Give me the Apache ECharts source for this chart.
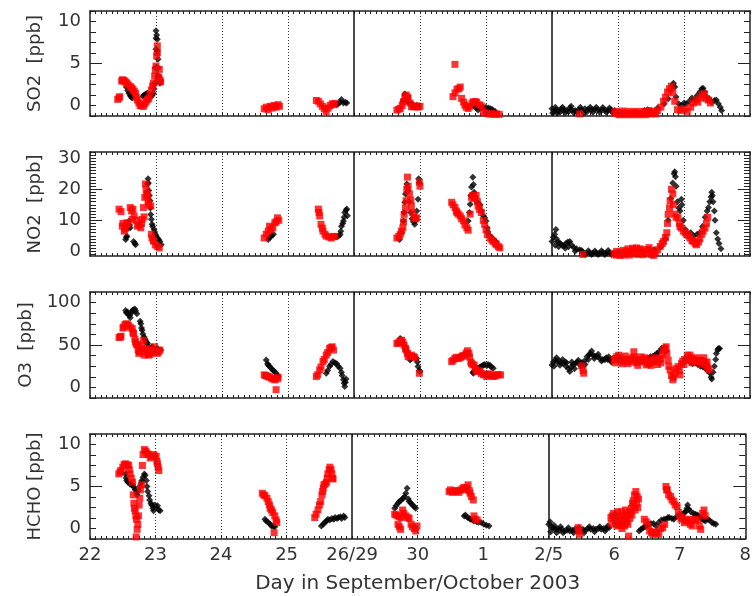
<!DOCTYPE html>
<html><head><meta charset="utf-8">
<script src="https://cdn.jsdelivr.net/npm/echarts@6/dist/echarts.min.js"></script>
<style>html,body{margin:0;padding:0;background:#fff}#c{width:754px;height:596px}</style>
</head><body><div id="c"></div>
<script>
// x positions: days counted along the compressed axis (0 = Sep 22, 4 = Sep 26/29, 7 = Oct 2/5, 10 = Oct 8)
const dayLabels = ['22','23','24','25','26/29','30','1','2/5','6','7','8'];
const dayTicks = [0,1,2,3,4,5,6,7,8,9,10];
const dottedDays = [1,2,3,5,6,8,9];
const solidDays = [4,7];
const xTitle = 'Day in September/October 2003';

const so2Labels = [0,5,10];
const no2Labels = [0,10,20,30];
const o3Labels = [0,50,100];
const hchoLabels = [0,5,10];

const so2Black = [[0.55,2.2],[0.57,1.8],[0.59,1.45],[0.61,1.2],[0.62,1.05],[0.64,0.9],[0.80,1.1],[0.82,1.25],[0.85,1.4],[0.87,1.45],[0.9,1.2],[0.92,1.05],[0.94,1.2],[0.96,1.45],[0.97,2.0],[0.98,2.66],[0.99,4.5],[1.0,6.7],[1.0,8.0],[1.0,8.9],[1.01,8.4],[1.02,7.9],[1.02,6.5],[1.03,5.5],[1.03,4.5],[1.04,3.5],[1.05,3.0],[1.06,2.66],[1.07,2.9],
[2.72,-0.2],[2.8,0.0],[3.74,0.1],[3.76,0.2],[3.79,0.4],[3.81,0.7],[3.84,0.3],[3.87,0.4],[3.89,0.3],
[4.74,0.5],[4.77,1.37],[4.78,1.2],[4.80,0.65],[4.83,0.4],[4.85,0.25],[4.88,0.1],[4.9,0.05],[4.95,0.0],
[5.81,0.0],[5.85,-0.3],[5.88,-0.55],[5.92,-0.3],[5.96,-0.25],[6.0,-0.2],[6.04,-0.3],[6.07,-0.4],[6.1,-0.5],[6.14,-0.7],
[7.0,-0.4],[7.03,-0.7],[7.06,-0.5],[7.1,-0.6],[7.14,-0.4],[7.18,-0.5],[7.22,-0.6],[7.27,-0.3],[7.3,-0.5],[7.35,-0.6],[7.4,-0.5],[7.45,-0.55],[7.5,-0.4],[7.55,-0.45],[7.6,-0.5],[7.65,-0.45],[7.7,-0.5],[7.75,-0.55],[7.8,-0.5],[7.85,-0.6],[7.9,-0.55],[7.95,-0.6],
[7.01,-0.9],[7.05,-0.2],[7.08,-0.9],[7.12,-0.8],[7.16,-0.2],[7.2,-0.85],[7.25,-0.75],[7.29,-0.1],[7.33,-0.85],[7.38,-0.8],[7.43,-0.2],[7.48,-0.85],[7.53,-0.75],[7.58,-0.2],[7.62,-0.8],[7.67,-0.2],[7.72,-0.8],[7.77,-0.25],[7.82,-0.8],[7.87,-0.3],[7.92,-0.85],
[8.4,-0.6],[8.45,-0.5],[8.6,-0.3],[8.7,0.2],[8.76,0.8],[8.8,1.8],[8.83,2.4],[8.84,2.66],[8.86,2.2],[8.88,1.0],[8.92,0.2],[8.96,0.0],[9.0,0.3],[9.03,0.2],[9.08,0.5],[9.12,0.9],[9.16,0.7],[9.2,1.2],[9.24,1.6],[9.27,2.0],[9.29,2.05],[9.31,1.6],[9.34,1.0],[9.38,0.8],[9.42,0.4],[9.46,0.6],[9.49,0.65],[9.52,0.2],[9.55,-0.2],[9.57,-0.6]];
const so2Red = [[0.42,0.73],[0.44,0.9],[0.45,1.05],[0.48,2.9],[0.49,3.06],[0.51,3.0],[0.52,2.9],[0.54,2.8],[0.56,2.66],[0.58,2.45],[0.61,2.26],[0.63,2.1],[0.65,1.9],[0.67,1.7],[0.69,1.45],[0.70,1.0],[0.72,0.65],[0.74,0.3],[0.76,0.0],[0.78,-0.05],[0.81,-0.1],[0.83,0.2],[0.85,0.45],[0.87,0.7],[0.89,0.85],[0.91,1.3],[0.93,1.85],[0.95,2.3],[0.96,2.66],[0.98,3.5],[0.99,4.2],[1.0,4.7],[1.01,5.9],[1.02,7.1],[1.02,6.3],[1.03,3.06],[1.04,3.4],[1.05,4.3],[1.06,3.06],[1.07,2.8],
[2.64,-0.4],[2.67,-0.2],[2.7,-0.5],[2.73,-0.1],[2.76,-0.3],[2.79,0.0],[2.82,-0.2],[2.85,0.1],[2.87,-0.1],
[3.43,0.6],[3.46,0.5],[3.49,0.2],[3.52,-0.1],[3.55,-0.4],[3.58,-0.7],[3.61,-0.3],[3.64,0.0],[3.67,0.2],[3.71,0.25],[3.69,0.1],
[4.65,-0.55],[4.68,-0.45],[4.70,-0.35],[4.73,0.0],[4.75,0.45],[4.77,0.9],[4.79,1.25],[4.81,1.0],[4.82,0.85],[4.85,0.3],[4.87,-0.15],[4.9,-0.1],[4.92,-0.15],[4.95,-0.05],[4.97,-0.2],[5.0,-0.1],
[5.53,4.9],[5.5,1.05],[5.53,1.5],[5.56,1.94],[5.59,2.0],[5.61,2.2],[5.63,0.85],[5.66,0.4],[5.68,0.05],[5.7,-0.2],[5.73,-0.35],[5.76,-0.1],[5.79,0.3],[5.81,0.45],[5.84,0.45],[5.86,0.4],[5.9,0.1],[5.93,-0.05],[5.96,-0.75],[6.0,-0.9],[6.04,-1.0],[6.08,-1.0],[6.12,-1.05],[6.16,-1.0],[6.2,-1.05],
[7.42,-1.0],[7.95,-0.9],[8.0,-1.0],[8.05,-0.85],[8.1,-1.0],[8.15,-0.9],[8.2,-1.0],[8.25,-0.85],[8.3,-0.95],[8.35,-1.0],[8.4,-0.9],[8.45,-0.8],[8.5,-1.0],[8.55,-0.8],
[7.97,-0.7],[8.02,-1.1],[8.07,-0.65],[8.12,-1.1],[8.17,-0.7],[8.22,-1.1],[8.27,-0.7],[8.32,-1.1],[8.37,-0.7],[8.42,-1.1],[8.47,-0.6],[8.52,-0.7],[8.57,-1.0],
[8.6,-0.6],[8.65,-0.2],[8.69,0.5],[8.72,1.0],[8.75,1.6],[8.78,2.0],[8.81,2.3],[8.83,1.5],[8.86,0.5],[8.9,-0.5],[8.95,-0.6],[9.0,-0.4],[9.05,-0.7],[9.1,-0.2],[9.14,0.3],[9.18,0.65],[9.21,0.4],[9.25,0.9],[9.28,1.25],[9.31,1.4],[9.34,0.8],[9.37,0.65],[9.4,0.3]];

const no2Black = [[0.54,3.8],[0.55,4.5],[0.56,4.9],[0.58,7.5],[0.59,9.8],[0.60,8.5],[0.61,7.6],[0.66,3.2],[0.68,2.6],[0.69,2.1],
[0.86,19.0],[0.87,21.7],[0.88,23.4],[0.885,22.0],[0.89,19.6],[0.9,18.0],[0.91,16.3],[0.915,14.0],[0.92,11.9],[0.93,10.3],[0.94,8.7],[0.95,8.0],[0.97,7.0],[0.98,6.2],[0.99,5.4],[1.0,5.0],[1.02,4.3],[1.04,3.8],[1.06,3.2],[1.08,2.1],
[2.7,3.8],[2.73,4.5],[2.75,5.0],[2.78,5.5],
[3.74,4.6],[3.77,5.0],[3.79,5.4],[3.8,6.5],[3.81,8.1],[3.83,9.0],[3.84,9.8],[3.85,11.0],[3.86,12.5],[3.88,13.2],[3.89,13.6],[3.9,11.5],
[4.69,3.8],[4.72,6.0],[4.75,9.8],[4.76,12.5],[4.77,15.8],[4.78,18.5],[4.8,21.7],[4.81,20.5],[4.82,19.6],[4.84,16.0],[4.86,12.5],[4.88,10.5],[4.9,9.5],[4.92,8.7],[4.94,10.0],[4.95,13.0],[4.97,16.8],[4.98,23.4],[4.99,22.0],
[5.73,9.8],[5.75,12.5],[5.76,15.2],[5.77,18.0],[5.78,20.7],[5.8,23.9],[5.81,21.5],[5.82,19.0],[5.84,17.5],[5.86,16.0],[5.88,15.5],[5.91,15.0],[5.93,13.0],[5.96,11.5],[5.98,10.8],[6.0,9.8],[6.02,7.5],[6.03,6.3],[6.06,5.0],[6.09,4.3],[6.12,3.6],[6.15,3.2],
[7.0,3.2],[7.02,4.5],[7.04,5.5],[7.06,7.0],[7.07,4.0],[7.09,3.0],[7.12,2.7],[7.15,2.0],[7.18,1.8],[7.21,2.5],[7.24,3.0],[7.27,3.2],[7.3,2.0],[7.33,1.2],[7.37,0.8],[7.42,0.5],[7.47,-0.4],[7.52,-0.6],[7.57,-0.5],[7.62,-0.6],[7.67,-0.5],[7.72,-0.6],[7.77,-0.4],[7.82,-0.5],[7.87,-0.4],[7.93,-0.5],
[7.05,2.0],[7.1,1.5],[7.2,1.0],[7.25,1.5],[7.35,0.0],[7.45,0.3],[7.5,-1.0],[7.55,0.2],[7.6,-1.0],[7.65,0.1],[7.7,-1.0],[7.75,0.2],[7.8,-1.0],[7.85,0.3],[7.9,-1.0],
[8.45,0.2],[8.55,0.5],[8.65,1.5],[8.72,4.0],[8.76,10.0],[8.8,17.0],[8.83,22.0],[8.85,25.0],[8.86,25.6],[8.87,24.0],[8.88,21.0],[8.9,16.0],[8.92,14.0],[8.94,13.0],[8.96,16.8],[8.97,15.0],[8.99,10.0],[9.02,7.0],[9.06,5.5],[9.1,6.0],[9.15,5.0],[9.2,5.5],[9.24,6.0],[9.28,8.0],[9.32,11.0],[9.35,13.0],[9.37,14.1],[9.39,16.0],[9.41,17.5],[9.42,19.0],[9.43,18.0],[9.44,16.0],[9.46,13.0],[9.47,10.0],[9.49,6.0],[9.51,4.0],[9.53,2.5],[9.56,0.8]];
const no2Red = [[0.44,13.6],[0.47,12.8],[0.49,8.1],[0.5,9.0],[0.52,6.5],[0.53,7.2],[0.54,7.8],[0.56,9.2],[0.57,8.6],[0.61,14.1],[0.63,13.0],[0.64,10.3],[0.65,13.6],[0.67,11.4],[0.7,10.0],[0.72,8.1],[0.74,8.5],[0.77,7.6],[0.78,9.0],[0.79,10.3],[0.81,14.1],[0.82,11.1],[0.83,17.4],[0.84,21.7],[0.85,20.0],[0.86,18.0],[0.87,18.5],[0.88,16.0],[0.89,15.2],[0.92,14.6],[0.93,5.5],[0.94,4.3],[0.96,3.5],[0.97,3.2],[0.99,2.1],[1.02,1.6],[1.05,1.1],
[2.64,4.3],[2.67,5.5],[2.7,6.5],[2.72,8.1],[2.74,7.0],[2.77,7.6],[2.8,9.2],[2.82,9.5],[2.84,10.8],[2.86,10.0],
[3.46,13.6],[3.47,12.5],[3.48,11.4],[3.5,8.7],[3.52,7.5],[3.53,6.5],[3.56,5.5],[3.58,4.9],[3.62,4.6],[3.66,4.3],[3.69,4.8],[3.71,4.8],
[4.65,4.3],[4.68,4.8],[4.7,5.4],[4.72,6.5],[4.74,7.6],[4.75,9.5],[4.76,11.9],[4.78,14.0],[4.79,16.3],[4.8,20.0],[4.81,23.9],[4.82,21.0],[4.84,18.5],[4.86,16.5],[4.87,14.6],[4.89,12.5],[4.91,10.8],[4.93,10.5],[4.95,10.8],[4.99,22.3],[5.0,21.0],
[5.48,15.8],[5.5,15.0],[5.53,14.1],[5.55,13.0],[5.56,12.5],[5.58,12.0],[5.61,11.4],[5.63,10.5],[5.66,9.8],[5.68,8.5],[5.71,7.6],[5.73,6.8],[5.76,12.0],[5.78,17.4],[5.8,18.0],[5.82,17.0],[5.85,18.0],[5.87,16.0],[5.88,14.6],[5.9,13.5],[5.93,12.5],[5.96,10.0],[5.98,8.7],[6.0,7.0],[6.02,5.4],[6.06,4.3],[6.09,3.6],[6.11,3.2],[6.14,2.5],[6.16,2.1],[6.19,1.5],[6.21,1.1],
[7.47,-1.0],[7.94,-0.8],[7.97,-1.2],[8.0,-0.9],[8.03,-1.3],[8.06,-0.8],[8.09,-1.2],[8.12,-0.5],[8.13,0.0],[8.16,-0.6],[8.2,-0.2],[8.24,0.4],[8.28,1.1],[8.32,0.5],[8.36,-0.3],[8.4,0.2],[8.45,0.6],[8.49,0.3],[8.52,-0.8],[8.54,-1.3],
[7.98,0.0],[8.02,-0.3],[8.08,0.3],[8.15,0.8],[8.18,-1.2],[8.22,1.0],[8.26,-0.5],[8.3,-1.0],[8.34,0.8],[8.38,-1.1],[8.43,-0.5],[8.47,1.2],[8.5,-1.0],
[8.57,-0.5],[8.6,0.5],[8.64,1.6],[8.67,2.5],[8.69,3.2],[8.72,4.5],[8.74,6.0],[8.75,9.0],[8.76,11.9],[8.78,14.0],[8.79,16.3],[8.81,20.0],[8.83,18.5],[8.84,15.0],[8.86,12.0],[8.88,11.0],[8.91,10.8],[8.93,9.0],[8.94,8.0],[8.96,7.5],[8.99,6.5],[9.02,6.0],[9.04,5.5],[9.07,5.0],[9.09,4.3],[9.12,3.5],[9.14,3.2],[9.17,2.5],[9.19,2.1],[9.22,3.0],[9.24,4.0],[9.27,5.5],[9.29,6.5],[9.32,7.5],[9.34,9.0],[9.36,11.0]];

const o3Black = [[0.54,90.7],[0.55,88.0],[0.57,88.7],[0.58,86.0],[0.6,84.8],[0.61,82.0],[0.63,88.0],[0.64,90.7],[0.66,91.5],[0.68,92.6],[0.69,90.0],[0.71,86.8],
[0.76,78.0],[0.77,75.1],[0.78,70.0],[0.79,67.3],[0.8,63.0],[0.82,59.5],[0.83,57.0],[0.84,55.6],[0.86,53.0],[0.87,51.8],[0.89,48.0],[0.91,45.9],[0.93,47.0],[0.94,48.0],[0.96,46.0],[0.98,44.0],[1.0,45.0],[1.02,45.9],[1.04,44.5],[1.07,44.0],
[2.67,32.3],[2.69,28.0],[2.7,26.5],[2.72,25.0],[2.74,23.0],[2.77,20.6],[2.79,19.0],[2.82,16.7],[2.84,14.0],[2.85,12.8],
[3.58,16.7],[3.6,20.0],[3.63,24.5],[3.65,27.0],[3.68,30.4],[3.71,29.0],[3.74,28.0],[3.76,25.0],[3.79,22.6],[3.81,18.0],[3.82,14.0],[3.84,8.9],[3.85,5.0],[3.86,1.2],[3.87,6.0],[3.88,10.0],
[4.7,57.6],[4.72,56.0],[4.74,53.0],[4.76,49.0],[4.78,45.0],[4.8,42.0],[4.82,38.0],[4.85,32.3],[4.87,34.0],[4.9,36.0],[4.93,35.0],[4.95,34.2],[4.96,30.0],[4.97,24.5],[4.99,20.0],[5.0,18.7],
[5.8,18.0],[5.81,16.7],[5.83,20.0],[5.86,22.6],[5.88,23.0],[5.91,24.0],[5.93,25.0],[5.96,26.5],[5.98,27.0],[6.01,25.5],[6.03,27.0],[6.06,26.0],[6.08,24.0],[6.11,22.6],
[7.0,26.5],[7.02,30.0],[7.05,32.3],[7.08,30.0],[7.11,31.0],[7.14,29.0],[7.17,28.4],[7.2,30.0],[7.22,29.0],[7.25,22.0],[7.27,18.7],[7.29,24.0],[7.32,27.0],[7.35,28.0],[7.38,30.0],[7.41,28.0],[7.45,29.0],[7.49,31.0],[7.53,36.2],[7.56,38.5],[7.58,40.1],[7.62,38.0],[7.65,37.0],[7.69,36.0],[7.73,34.2],[7.77,33.0],[7.8,32.5],[7.84,33.0],[7.88,32.3],[7.92,33.0],[7.95,32.5],
[7.03,25.0],[7.07,35.0],[7.12,26.0],[7.16,33.0],[7.21,25.0],[7.3,30.0],[7.34,22.0],[7.4,32.0],[7.44,25.0],[7.5,27.0],[7.55,33.0],[7.6,43.0],[7.64,34.0],[7.7,39.0],[7.75,31.0],[7.82,35.0],[7.86,36.0],[7.9,30.0],
[8.45,34.0],[8.49,36.0],[8.53,37.0],[8.56,38.0],[8.59,40.1],[8.62,42.0],[8.66,45.9],[8.69,46.5],[8.71,47.0],[8.73,43.0],
[9.05,33.0],[9.09,30.0],[9.13,28.0],[9.17,29.0],[9.21,27.0],[9.25,25.0],[9.29,24.0],[9.33,22.0],[9.36,20.0],[9.39,17.0],[9.41,12.0],[9.42,10.0],[9.44,18.0],[9.46,25.0],[9.48,33.0],[9.49,40.1],[9.51,44.0],[9.52,45.9],[9.54,46.0]];
const o3Red = [[0.44,58.8],[0.46,59.5],[0.47,60.3],[0.5,70.0],[0.51,71.2],[0.53,74.0],[0.55,75.1],[0.57,73.5],[0.58,73.2],[0.61,71.0],[0.64,69.3],[0.65,65.0],[0.66,63.4],[0.68,57.0],[0.69,53.7],[0.7,51.0],[0.72,49.8],[0.73,44.0],[0.74,40.1],[0.75,42.0],[0.77,45.9],[0.79,50.0],[0.81,55.6],[0.82,38.1],[0.84,42.0],[0.86,46.0],[0.87,44.0],[0.88,40.0],[0.89,38.1],[0.91,39.0],[0.93,41.0],[0.94,42.0],[0.96,44.0],[0.98,47.9],[1.0,42.0],[1.02,40.1],[1.04,42.0],[1.06,44.0],
[2.64,14.8],[2.66,14.0],[2.68,13.5],[2.7,12.8],[2.72,12.0],[2.75,10.9],[2.77,10.0],[2.8,8.9],[2.82,-2.7],[2.84,10.0],[2.85,12.0],
[3.43,12.8],[3.45,15.0],[3.48,20.6],[3.5,24.0],[3.53,30.4],[3.55,33.0],[3.58,38.1],[3.6,41.0],[3.63,45.9],[3.65,47.0],[3.67,47.9],[3.69,44.0],
[4.65,51.8],[4.67,52.5],[4.69,53.7],[4.71,55.0],[4.72,55.6],[4.74,53.0],[4.76,49.8],[4.78,46.0],[4.79,44.0],[4.81,40.0],[4.82,36.2],[4.85,37.0],[4.87,38.1],[4.9,36.5],[4.92,35.0],[4.99,16.7],
[5.48,30.4],[5.5,32.0],[5.53,34.2],[5.55,35.5],[5.58,34.0],[5.61,35.0],[5.63,36.2],[5.65,37.5],[5.68,38.0],[5.7,40.5],[5.72,43.2],[5.74,40.0],[5.75,36.0],[5.77,30.0],[5.78,28.0],[5.8,26.5],[5.82,26.5],[5.84,22.0],[5.85,18.7],[5.88,20.0],[5.91,19.0],[5.93,16.5],[5.96,14.8],[5.98,15.5],[6.01,12.8],[6.04,15.0],[6.06,16.0],[6.09,14.0],[6.11,12.8],[6.14,13.5],[6.17,15.0],[6.19,14.8],[6.22,14.8],
[7.45,25.3],[7.47,20.0],[7.48,16.7],
[7.94,32.3],[7.96,34.0],[7.98,36.2],[8.0,33.0],[8.03,35.0],[8.05,32.0],[8.08,30.4],[8.1,33.0],[8.13,31.0],[8.16,33.0],[8.18,32.0],[8.21,35.0],[8.24,42.0],[8.26,33.0],[8.28,29.0],[8.31,31.0],[8.34,33.0],[8.36,31.0],[8.38,32.0],[8.41,30.0],[8.43,26.5],[8.46,28.0],[8.48,29.0],[8.51,30.0],[8.54,31.0],[8.57,31.5],[8.59,32.0],[8.62,33.0],[8.64,34.0],
[7.96,29.0],[8.01,38.0],[8.06,28.0],[8.11,37.0],[8.15,28.0],[8.2,30.0],[8.25,36.0],[8.3,26.0],[8.35,36.0],[8.4,35.0],[8.45,33.0],[8.5,26.0],[8.55,35.0],[8.6,27.0],[8.65,29.0],
[8.67,38.0],[8.69,44.0],[8.71,46.0],[8.73,47.9],[8.74,40.0],[8.76,32.0],[8.77,25.0],[8.79,20.6],[8.81,14.0],[8.83,9.0],[8.84,12.0],[8.86,16.7],[8.88,22.0],[8.91,24.5],[8.93,20.0],[8.94,14.8],[8.96,28.0],[8.98,31.0],[9.01,33.0],[9.04,32.0],[9.07,35.0],[9.09,38.1],[9.11,35.0],[9.14,33.0],[9.17,31.0],[9.19,30.4],[9.22,31.0],[9.25,32.0],[9.27,30.0],[9.29,31.0],[9.32,29.0],[9.34,25.3],[9.36,23.0],[9.38,20.6],
[9.0,27.0],[9.05,38.0],[9.12,29.0],[9.2,35.0],[9.26,27.0],[9.3,35.0],[9.35,30.0]];

const hchoBlack = [[0.54,6.5],[0.55,6.0],[0.56,5.7],[0.58,5.5],[0.61,5.3],[0.63,5.25],[0.65,5.2],[0.67,4.9],[0.69,4.6],[0.71,4.3],[0.72,4.0],[0.74,4.5],[0.76,5.0],[0.78,5.4],[0.79,5.7],[0.81,6.1],[0.83,6.5],[0.84,6.3],[0.86,5.7],[0.87,5.0],[0.88,4.4],[0.9,3.9],[0.91,3.4],[0.93,3.0],[0.94,2.8],[0.96,2.4],[0.97,2.1],[0.99,2.8],[1.01,2.5],[1.03,2.7],[1.05,2.2],[1.07,2.1],
[2.67,1.1],[2.69,0.9],[2.72,0.7],[2.75,0.5],[2.77,0.3],[2.8,0.25],[2.82,0.2],
[3.53,0.3],[3.56,0.5],[3.58,0.7],[3.61,0.9],[3.63,1.1],[3.66,1.0],[3.69,1.2],[3.72,1.1],[3.74,1.3],[3.77,1.2],[3.79,1.3],[3.82,1.4],[3.84,1.2],[3.87,1.5],[3.89,1.3],
[4.65,2.4],[4.67,2.7],[4.7,3.0],[4.72,3.2],[4.75,3.4],[4.78,3.6],[4.8,3.8],[4.82,4.2],[4.84,4.8],[4.86,3.5],[4.87,3.2],[4.9,3.0],[4.92,2.8],[4.95,2.6],[4.97,2.4],
[5.71,1.5],[5.73,1.6],[5.76,1.3],[5.79,1.2],[5.81,1.1],[5.84,1.0],[5.86,0.9],[5.9,0.8],[5.93,0.75],[5.97,0.7],[6.01,0.5],[6.05,0.4],[6.09,0.3],
[7.0,0.5],[7.02,0.8],[7.04,0.2],[7.07,0.1],[7.1,-0.1],[7.13,0.0],[7.16,-0.2],[7.2,-0.1],[7.24,-0.3],[7.28,-0.2],[7.32,-0.3],[7.36,-0.2],[7.4,-0.1],[7.44,-0.2],[7.48,-0.3],[7.52,-0.1],[7.56,-0.2],[7.6,0.0],[7.64,-0.1],[7.68,0.0],[7.72,-0.1],[7.76,0.0],[7.8,-0.1],[7.84,0.0],[7.88,0.0],[7.92,0.1],
[7.03,-0.4],[7.08,0.4],[7.12,-0.5],[7.18,0.2],[7.22,-0.5],[7.3,0.1],[7.38,-0.5],[7.46,0.1],[7.54,-0.5],[7.62,0.2],[7.7,-0.4],[7.78,0.2],[7.86,-0.3],[7.9,0.3],
[8.38,-0.3],[8.41,-0.1],[8.44,0.1],[8.47,0.2],[8.49,0.3],[8.52,0.5],[8.56,0.6],[8.6,0.6],[8.64,0.3],[8.68,0.7],[8.72,1.0],[8.76,1.1],[8.79,1.1],[8.82,1.3],[8.84,1.3],[8.88,1.2],[8.91,1.1],[8.95,1.4],[8.98,1.5],[9.01,1.6],[9.04,1.7],[9.07,1.9],[9.09,2.0],[9.11,2.4],[9.12,2.8],[9.14,2.3],[9.17,2.0],[9.21,1.8],[9.24,1.7],[9.27,1.6],[9.29,1.5],[9.32,1.3],[9.34,1.1],[9.37,1.0],[9.39,0.9],[9.42,1.1],[9.45,1.0],[9.49,0.7],[9.52,0.6],[9.55,0.5]];
const hchoRed = [[0.44,6.5],[0.46,6.7],[0.47,6.9],[0.5,7.3],[0.52,7.6],[0.54,7.7],[0.57,7.6],[0.59,7.5],[0.6,7.0],[0.61,6.5],[0.63,6.0],[0.65,5.5],[0.66,4.0],[0.67,3.0],[0.68,2.4],[0.69,2.1],[0.7,1.5],[0.71,1.1],[0.72,-0.1],[0.705,-1.0],[0.73,0.5],[0.74,1.5],[0.75,2.8],[0.76,3.6],[0.77,4.6],[0.79,5.2],[0.8,7.5],[0.81,8.8],[0.83,9.4],[0.85,9.2],[0.87,9.0],[0.89,8.8],[0.92,8.4],[0.94,8.6],[0.97,8.8],[0.99,8.6],[1.01,8.6],[1.02,8.0],[1.03,7.7],[1.04,7.3],[1.05,6.9],
[2.63,4.2],[2.65,4.0],[2.67,3.9],[2.7,3.6],[2.72,3.2],[2.74,2.8],[2.75,2.4],[2.77,2.2],[2.79,1.9],[2.81,-0.5],[2.82,1.5],[2.84,1.0],[2.85,0.7],
[3.43,1.3],[3.45,1.7],[3.48,2.2],[3.5,2.8],[3.52,3.2],[3.54,4.0],[3.55,4.4],[3.56,4.8],[3.57,5.2],[3.59,5.3],[3.61,5.5],[3.62,6.0],[3.63,6.5],[3.65,7.0],[3.66,7.3],[3.68,7.0],[3.69,6.5],[3.7,6.0],[3.71,5.9],
[4.65,1.7],[4.67,1.6],[4.7,1.5],[4.72,1.4],[4.75,1.3],[4.77,2.2],[4.79,1.8],[4.82,1.5],[4.85,1.3],[4.87,1.2],[4.7,0.5],[4.72,0.2],[4.74,-0.1],[4.9,0.5],[4.92,0.2],[4.95,0.0],[4.97,-0.3],[4.99,0.3],
[5.48,4.4],[5.5,4.6],[5.53,4.3],[5.56,4.5],[5.58,4.4],[5.61,4.5],[5.63,4.3],[5.66,4.6],[5.69,4.8],[5.71,4.9],[5.73,4.6],[5.75,4.8],[5.77,5.2],[5.79,4.5],[5.8,4.2],[5.82,3.8],[5.85,3.4],[5.86,1.5],[5.88,1.1],[5.91,1.0],
[7.45,0.1],[7.46,-0.3],[7.47,-0.7],
[7.95,1.3],[7.97,1.5],[8.0,1.2],[8.02,0.9],[8.04,1.5],[8.06,0.3],[8.08,0.6],[8.1,0.5],[8.12,1.0],[8.14,1.3],[8.16,1.6],[8.18,1.2],[8.2,1.6],[8.22,-0.9],[8.23,1.9],[8.25,2.0],[8.26,2.4],[8.28,3.0],[8.29,3.3],[8.31,4.0],[8.33,4.4],[8.35,3.8],[8.37,3.5],[8.12,0.0],[8.16,0.3],[8.19,0.8],
[7.96,0.6],[7.99,1.8],[8.03,0.4],[8.05,2.0],[8.09,1.4],[8.11,2.0],[8.15,0.8],[8.17,2.2],[8.21,0.5],[8.24,1.2],[8.27,1.6],[8.3,2.6],[8.32,2.2],[8.34,3.0],[8.36,2.5],
[8.46,1.1],[8.49,0.8],[8.52,0.3],[8.54,-0.3],[8.57,-0.5],[8.59,-0.7],[8.62,-0.4],[8.65,-0.5],[8.68,-0.7],[8.71,0.0],[8.74,0.1],[8.77,0.5],[8.79,5.0],[8.8,4.6],[8.81,4.6],[8.83,4.0],[8.86,3.8],[8.88,3.4],[8.91,3.2],[8.93,2.8],[8.96,2.6],[8.98,1.9],[9.0,1.5],[9.02,1.1],[9.04,1.3],[9.07,0.7],[9.09,0.9],[9.11,1.0],[9.14,1.1],[9.16,0.5],[9.19,0.3],[9.22,1.0],[9.24,1.1],[9.27,1.0],[9.3,0.3],[9.32,-0.1],[9.35,1.8],[9.37,2.2],[9.39,1.5]];

const FONT = 'DejaVu Sans';
const TXT = '#333';
const AX = '#222';

const panels = [
  {name:'SO2  [ppb]',  min:-1.25, max:11.25, tick0:-1.25, step:1.25, labels:so2Labels,  major:[5],     black:so2Black,  red:so2Red,  top:11,  height:105},
  {name:'NO2  [ppb]',  min:-1.5,  max:32,    tick0:-1,    step:1,    labels:no2Labels,  major:[10,20], black:no2Black,  red:no2Red,  top:152, height:104},
  {name:'O3  [ppb]',   min:-12.5, max:112.5, tick0:-12.5, step:12.5, labels:o3Labels,   major:[50],    black:o3Black,   red:o3Red,   top:292, height:106},
  {name:'HCHO [ppb]',  min:-1.25, max:11.25, tick0:-1.25, step:1.25, labels:hchoLabels, major:[5],     black:hchoBlack, red:hchoRed, top:434, height:105}
];

const xMinor = [];
for (let k = 0; k <= 120; k++) xMinor.push(k / 12);

const grids = [], xAxes = [], yAxes = [], series = [];
panels.forEach((p, i) => {
  grids.push({left:90, width:660, top:p.top, height:p.height});
  const minor = [];
  for (let v = p.tick0; v <= p.max + 1e-9; v += p.step) minor.push(+v.toFixed(4));
  const last = i === panels.length - 1;
  const xBase = xAxes.length;
  const xLine = {show:true, onZero:false, lineStyle:{color:AX, width:1.5}};
  xAxes.push({type:'value', gridIndex:i, position:'bottom', min:0, max:10,
    axisLine:xLine,
    axisTick:{show:true, inside:true, length:3, customValues:xMinor, lineStyle:{color:AX, width:1}},
    axisLabel:{show:last, customValues:dayTicks, formatter:v => dayLabels[Math.round(v)], color:TXT, fontFamily:FONT, fontSize:18, margin:7},
    splitLine:{show:false},
    name: last ? xTitle : '', nameLocation:'middle', nameGap:35,
    nameTextStyle:{color:TXT, fontFamily:FONT, fontSize:20}});
  xAxes.push({type:'value', gridIndex:i, position:'top', min:0, max:10,
    axisLine:xLine,
    axisTick:{show:true, inside:true, length:3, customValues:xMinor, lineStyle:{color:AX, width:1}},
    axisLabel:{show:false}, splitLine:{show:false}});
  const yBase = yAxes.length;
  const common = {type:'value', gridIndex:i, min:p.min, max:p.max, splitLine:{show:false}};
  const yLine = {show:true, onZero:false, lineStyle:{color:AX, width:1.5}};
  yAxes.push(Object.assign({}, common, {position:'left', axisLine:yLine,
    axisTick:{show:true, inside:true, length:6, customValues:minor, lineStyle:{color:AX}},
    axisLabel:{show:true, customValues:p.labels, color:TXT, fontFamily:FONT, fontSize:18, margin:9},
    name:p.name, nameLocation:'middle', nameGap:46,
    nameTextStyle:{color:TXT, fontFamily:FONT, fontSize:18}}));
  yAxes.push(Object.assign({}, common, {position:'left', axisLine:{show:false, onZero:false},
    axisTick:{show:true, inside:true, length:12, customValues:p.major, lineStyle:{color:AX}},
    axisLabel:{show:false}}));
  yAxes.push(Object.assign({}, common, {position:'right', axisLine:yLine,
    axisTick:{show:true, inside:true, length:6, customValues:minor, lineStyle:{color:AX}},
    axisLabel:{show:false}}));
  yAxes.push(Object.assign({}, common, {position:'right', axisLine:{show:false, onZero:false},
    axisTick:{show:true, inside:true, length:12, customValues:p.major, lineStyle:{color:AX}},
    axisLabel:{show:false}}));

  const lines = dottedDays.map(d => ({xAxis:d, lineStyle:{type:[1,2], color:'#333', width:1}}))
    .concat(solidDays.map(d => ({xAxis:d, lineStyle:{type:'solid', color:'#111', width:1.5}})));
  series.push({type:'scatter', xAxisIndex:xBase, yAxisIndex:yBase, data:p.black,
    symbol:'diamond', symbolSize:7, itemStyle:{color:'#000'}, z:2,
    markLine:{silent:true, symbol:['none','none'], label:{show:false}, data:lines}});
  series.push({type:'scatter', xAxisIndex:xBase, yAxisIndex:yBase, data:p.red,
    symbol:'rect', symbolSize:7, itemStyle:{color:'#ff0000'}, z:3});
});

const chart = echarts.init(document.getElementById('c'), null, {renderer:'canvas'});
chart.setOption({animation:false, backgroundColor:'#fff', grid:grids, xAxis:xAxes, yAxis:yAxes, series:series});
</script></body></html>
